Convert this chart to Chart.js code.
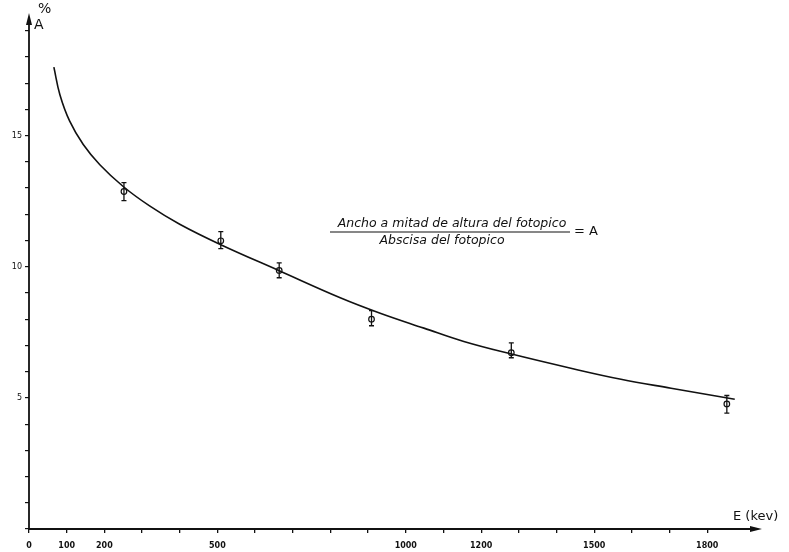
<!DOCTYPE html>
<html>
<head>
<meta charset="utf-8">
<script src="https://cdn.jsdelivr.net/npm/chart.js@4/dist/chart.umd.min.js"></script>
<style>
html,body{margin:0;padding:0;background:#fff;}
#wrap{width:789px;height:552px;position:relative;}
</style>
</head>
<body>
<div id="wrap"><canvas id="c" width="789" height="552"></canvas></div>
<script>
// ---- data ----
const pointEnergy = [252, 509, 664, 909, 1280, 1852];   // keV
const pointA      = [12.87, 10.99, 9.86, 8.00, 6.72, 4.77]; // %
const pointHigh   = [13.21, 11.34, 10.15, 8.33, 7.10, 5.09];
const pointLow    = [12.52, 10.69, 9.58, 7.75, 6.53, 4.42];

const curveEnergy = [66, 82, 108, 144, 188, 250, 320, 400, 509, 664, 826, 932, 1048, 1154, 1278, 1438, 1571, 1704, 1873];
const curveA      = [17.61, 16.56, 15.55, 14.66, 13.89, 13.06, 12.32, 11.62, 10.84, 9.85, 8.82, 8.23, 7.66, 7.15, 6.68, 6.13, 5.71, 5.37, 4.95];

const xTickValues = [0,100,200,300,400,500,600,700,800,900,1000,1100,1200,1300,1400,1500,1600,1700,1800];
const xTickLabels = {0:'0',100:'100',200:'200',500:'500',1000:'1000',1200:'1200',1500:'1500',1800:'1800'};
const yTickValues = [0,1,2,3,4,5,6,7,8,9,10,11,12,13,14,15,16,17,18,19];
const yTickLabels = {5:'5',10:'10',15:'15'};

const formulaNum = 'Ancho a mitad de altura del fotopico';
const formulaDen = 'Abscisa del fotopico';
const formulaEq  = '= A';
const yTitleTop = '%';
const yTitle = 'A';
const xTitle = 'E (kev)';

const curveData = curveEnergy.map((e,i)=>({x:e, y:curveA[i]}));
const pointData = pointEnergy.map((e,i)=>({x:e, y:pointA[i]}));

const decor = {
  id:'decor',
  beforeDatasetsDraw(chart){
    const {ctx, chartArea:a} = chart;
    ctx.save();
    ctx.strokeStyle='#111'; ctx.fillStyle='#111'; ctx.lineWidth=1.8;
    ctx.beginPath(); ctx.moveTo(a.left, a.bottom); ctx.lineTo(a.right-4, a.bottom); ctx.stroke();
    ctx.beginPath(); ctx.moveTo(a.right+2, a.bottom); ctx.lineTo(a.right-10, a.bottom-3); ctx.lineTo(a.right-10, a.bottom+3); ctx.closePath(); ctx.fill();
    ctx.beginPath(); ctx.moveTo(a.left, a.bottom); ctx.lineTo(a.left, a.top+4); ctx.stroke();
    ctx.beginPath(); ctx.moveTo(a.left, a.top-2); ctx.lineTo(a.left-3, a.top+10); ctx.lineTo(a.left+3, a.top+10); ctx.closePath(); ctx.fill();
    ctx.restore();
  },
  afterDatasetsDraw(chart){
    const {ctx, scales:{x,y}} = chart;
    ctx.save();
    ctx.strokeStyle='#111'; ctx.lineWidth=1.3;
    pointEnergy.forEach((e,i)=>{
      const px = x.getPixelForValue(e);
      const hi = y.getPixelForValue(pointHigh[i]);
      const lo = y.getPixelForValue(pointLow[i]);
      ctx.beginPath();
      ctx.moveTo(px, hi); ctx.lineTo(px, lo);
      ctx.moveTo(px-2.5, hi); ctx.lineTo(px+2.5, hi);
      ctx.moveTo(px-2.5, lo); ctx.lineTo(px+2.5, lo);
      ctx.stroke();
    });
    ctx.restore();
  },
  afterDraw(chart){
    const {ctx} = chart;
    ctx.save();
    ctx.fillStyle='#111'; ctx.strokeStyle='#111';
    ctx.textBaseline='middle';
    ctx.font='14px "DejaVu Sans"';
    ctx.textAlign='left';
    ctx.fillText(yTitleTop, 38, 9);
    ctx.fillText(yTitle, 34, 25);
    ctx.font='13px "DejaVu Sans"';
    ctx.fillText(xTitle, 733, 517);
    ctx.font='italic 12.5px "DejaVu Sans"';
    ctx.textAlign='center';
    ctx.fillText(formulaNum, 452, 224);
    ctx.fillText(formulaDen, 442, 241);
    ctx.lineWidth=1.2;
    ctx.beginPath(); ctx.moveTo(330, 232); ctx.lineTo(570, 232); ctx.stroke();
    ctx.font='13px "DejaVu Sans"';
    ctx.textAlign='left';
    ctx.fillText(formulaEq, 574, 232);
    ctx.restore();
  }
};

new Chart(document.getElementById('c'), {
  type:'scatter',
  data:{datasets:[
    {type:'line', data:curveData, borderColor:'#111', borderWidth:1.6, pointRadius:0, tension:0.4, fill:false},
    {data:pointData, pointStyle:'circle', pointRadius:2.8, pointBackgroundColor:'#fff', pointBorderColor:'#111', pointBorderWidth:1.2}
  ]},
  options:{
    responsive:false, animation:false,
    layout:{padding:{top:15, right:29, left:0, bottom:0}},
    plugins:{legend:{display:false}, tooltip:{enabled:false}},
    scales:{
      x:{type:'linear', min:0, max:1940,
        afterBuildTicks(s){ s.ticks = xTickValues.map(v=>({value:v})); },
        afterFit(s){ s.height = 23; },
        border:{display:false},
        grid:{drawOnChartArea:false, drawTicks:true, tickLength:4, color:'#111', lineWidth:1.3},
        ticks:{autoSkip:false, maxRotation:0, padding:8, color:'#111', font:{family:'DejaVu Sans', size:8, weight:'bold'},
          callback(v){ return xTickLabels[v] !== undefined ? xTickLabels[v] : ''; }}
      },
      y:{type:'linear', min:0, max:19.6,
        afterBuildTicks(s){ s.ticks = yTickValues.map(v=>({value:v})); },
        afterFit(s){ s.width = 29; },
        border:{display:false},
        grid:{drawOnChartArea:false, drawTicks:true, tickLength:4, color:'#111', lineWidth:1.2},
        ticks:{autoSkip:false, padding:3, color:'#111', font:{family:'DejaVu Sans', size:8},
          callback(v){ return yTickLabels[v] !== undefined ? yTickLabels[v] : ''; }}
      }
    }
  },
  plugins:[decor]
});
</script>
</body>
</html>
